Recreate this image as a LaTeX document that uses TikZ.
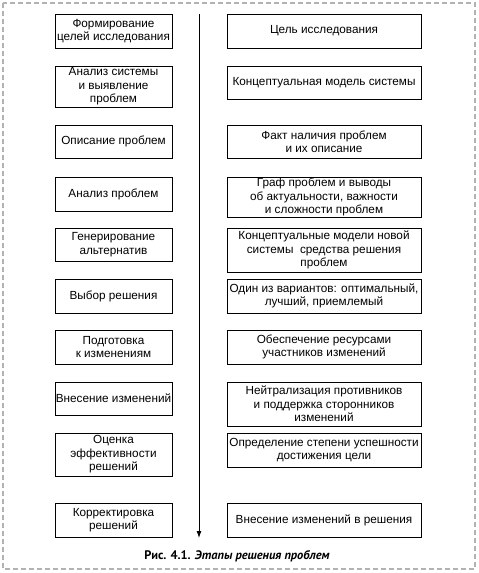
\documentclass[tikz,border=0pt]{standalone}
\usepackage{fontspec}
\setmainfont{Liberation Sans}
\newfontfamily\capfont{PT Sans}
\usetikzlibrary{arrows.meta}
\begin{document}
\begin{tikzpicture}[x=1pt,y=-1pt,
  box/.style={draw, line width=1pt, align=center, inner sep=0pt,
    font=\fontsize{11.75}{13.5}\selectfont},
  lbox/.style={box, minimum width=117pt},
  rbox/.style={box, minimum width=194pt},
  frame/.style={draw=black!30, line width=1.3pt, dash pattern=on 5pt off 3pt},
  flow/.style={line width=0.9pt, -{Latex[length=7pt,width=5pt]}}]
\useasboundingbox (0,0) rectangle (479,573);
\draw[frame] (3,3) rectangle (475,569);
% left column
\node[lbox, minimum height=34pt] (L1) at (113.5,31) {Формирование\\целей исследования};
\node[lbox, minimum height=41pt] (L2) at (113.5,86.5) {Анализ системы\\и выявление\\проблем};
\node[lbox, minimum height=33pt] (L3) at (113.5,141.5) {Описание проблем};
\node[lbox, minimum height=34pt] (L4) at (113.5,194) {Анализ проблем};
\node[lbox, minimum height=33pt] (L5) at (113.5,244.5) {Генерирование\\альтернатив};
\node[lbox, minimum height=34pt] (L6) at (113.5,296) {Выбор решения};
\node[lbox, minimum height=34pt] (L7) at (113.5,347) {Подготовка\\к изменениям};
\node[lbox, minimum height=33pt] (L8) at (113.5,398.5) {Внесение изменений};
\node[lbox, minimum height=43pt] (L9) at (113.5,454.5) {Оценка\\эффективности\\решений};
\node[lbox, minimum height=34pt] (L10) at (113.5,520) {Корректировка\\решений};
% right column
\node[rbox, minimum height=34pt] (R1) at (324,31) {Цель исследования};
\node[rbox, minimum height=33pt] (R2) at (324,82.5) {Концептуальная модель системы};
\node[rbox, minimum height=33pt] (R3) at (324,141.5) {Факт наличия проблем\\и их описание};
\node[rbox, minimum height=40pt] (R4) at (324,197) {Граф проблем и выводы\\об актуальности, важности\\и сложности проблем};
\node[rbox, minimum height=44pt] (R5) at (324,250) {Концептуальные модели новой\\системы~ средства решения\\проблем};
\node[rbox, minimum height=34pt] (R6) at (324,296) {Один из вариантов: оптимальный,\\лучший, приемлемый};
\node[rbox, minimum height=34pt] (R7) at (324,347) {Обеспечение ресурсами\\участников изменений};
\node[rbox, minimum height=44pt] (R8) at (324,404) {Нейтрализация противников\\и поддержка сторонников\\изменений};
\node[rbox, minimum height=34pt] (R9) at (324,450) {Определение степени успешности\\достижения цели};
\node[rbox, minimum height=34pt] (R10) at (324,520) {Внесение изменений в решения};
% time arrow
\coordinate (atop) at (199,14);
\coordinate (abot) at (199,538);
\draw[flow] (atop) -- (abot);
% caption
\node[font=\capfont\fontsize{12.4}{14}\selectfont\bfseries] (cap) at (237,556) {Рис. 4.1. \textit{Этапы решения проблем}};
\end{tikzpicture}
\end{document}
